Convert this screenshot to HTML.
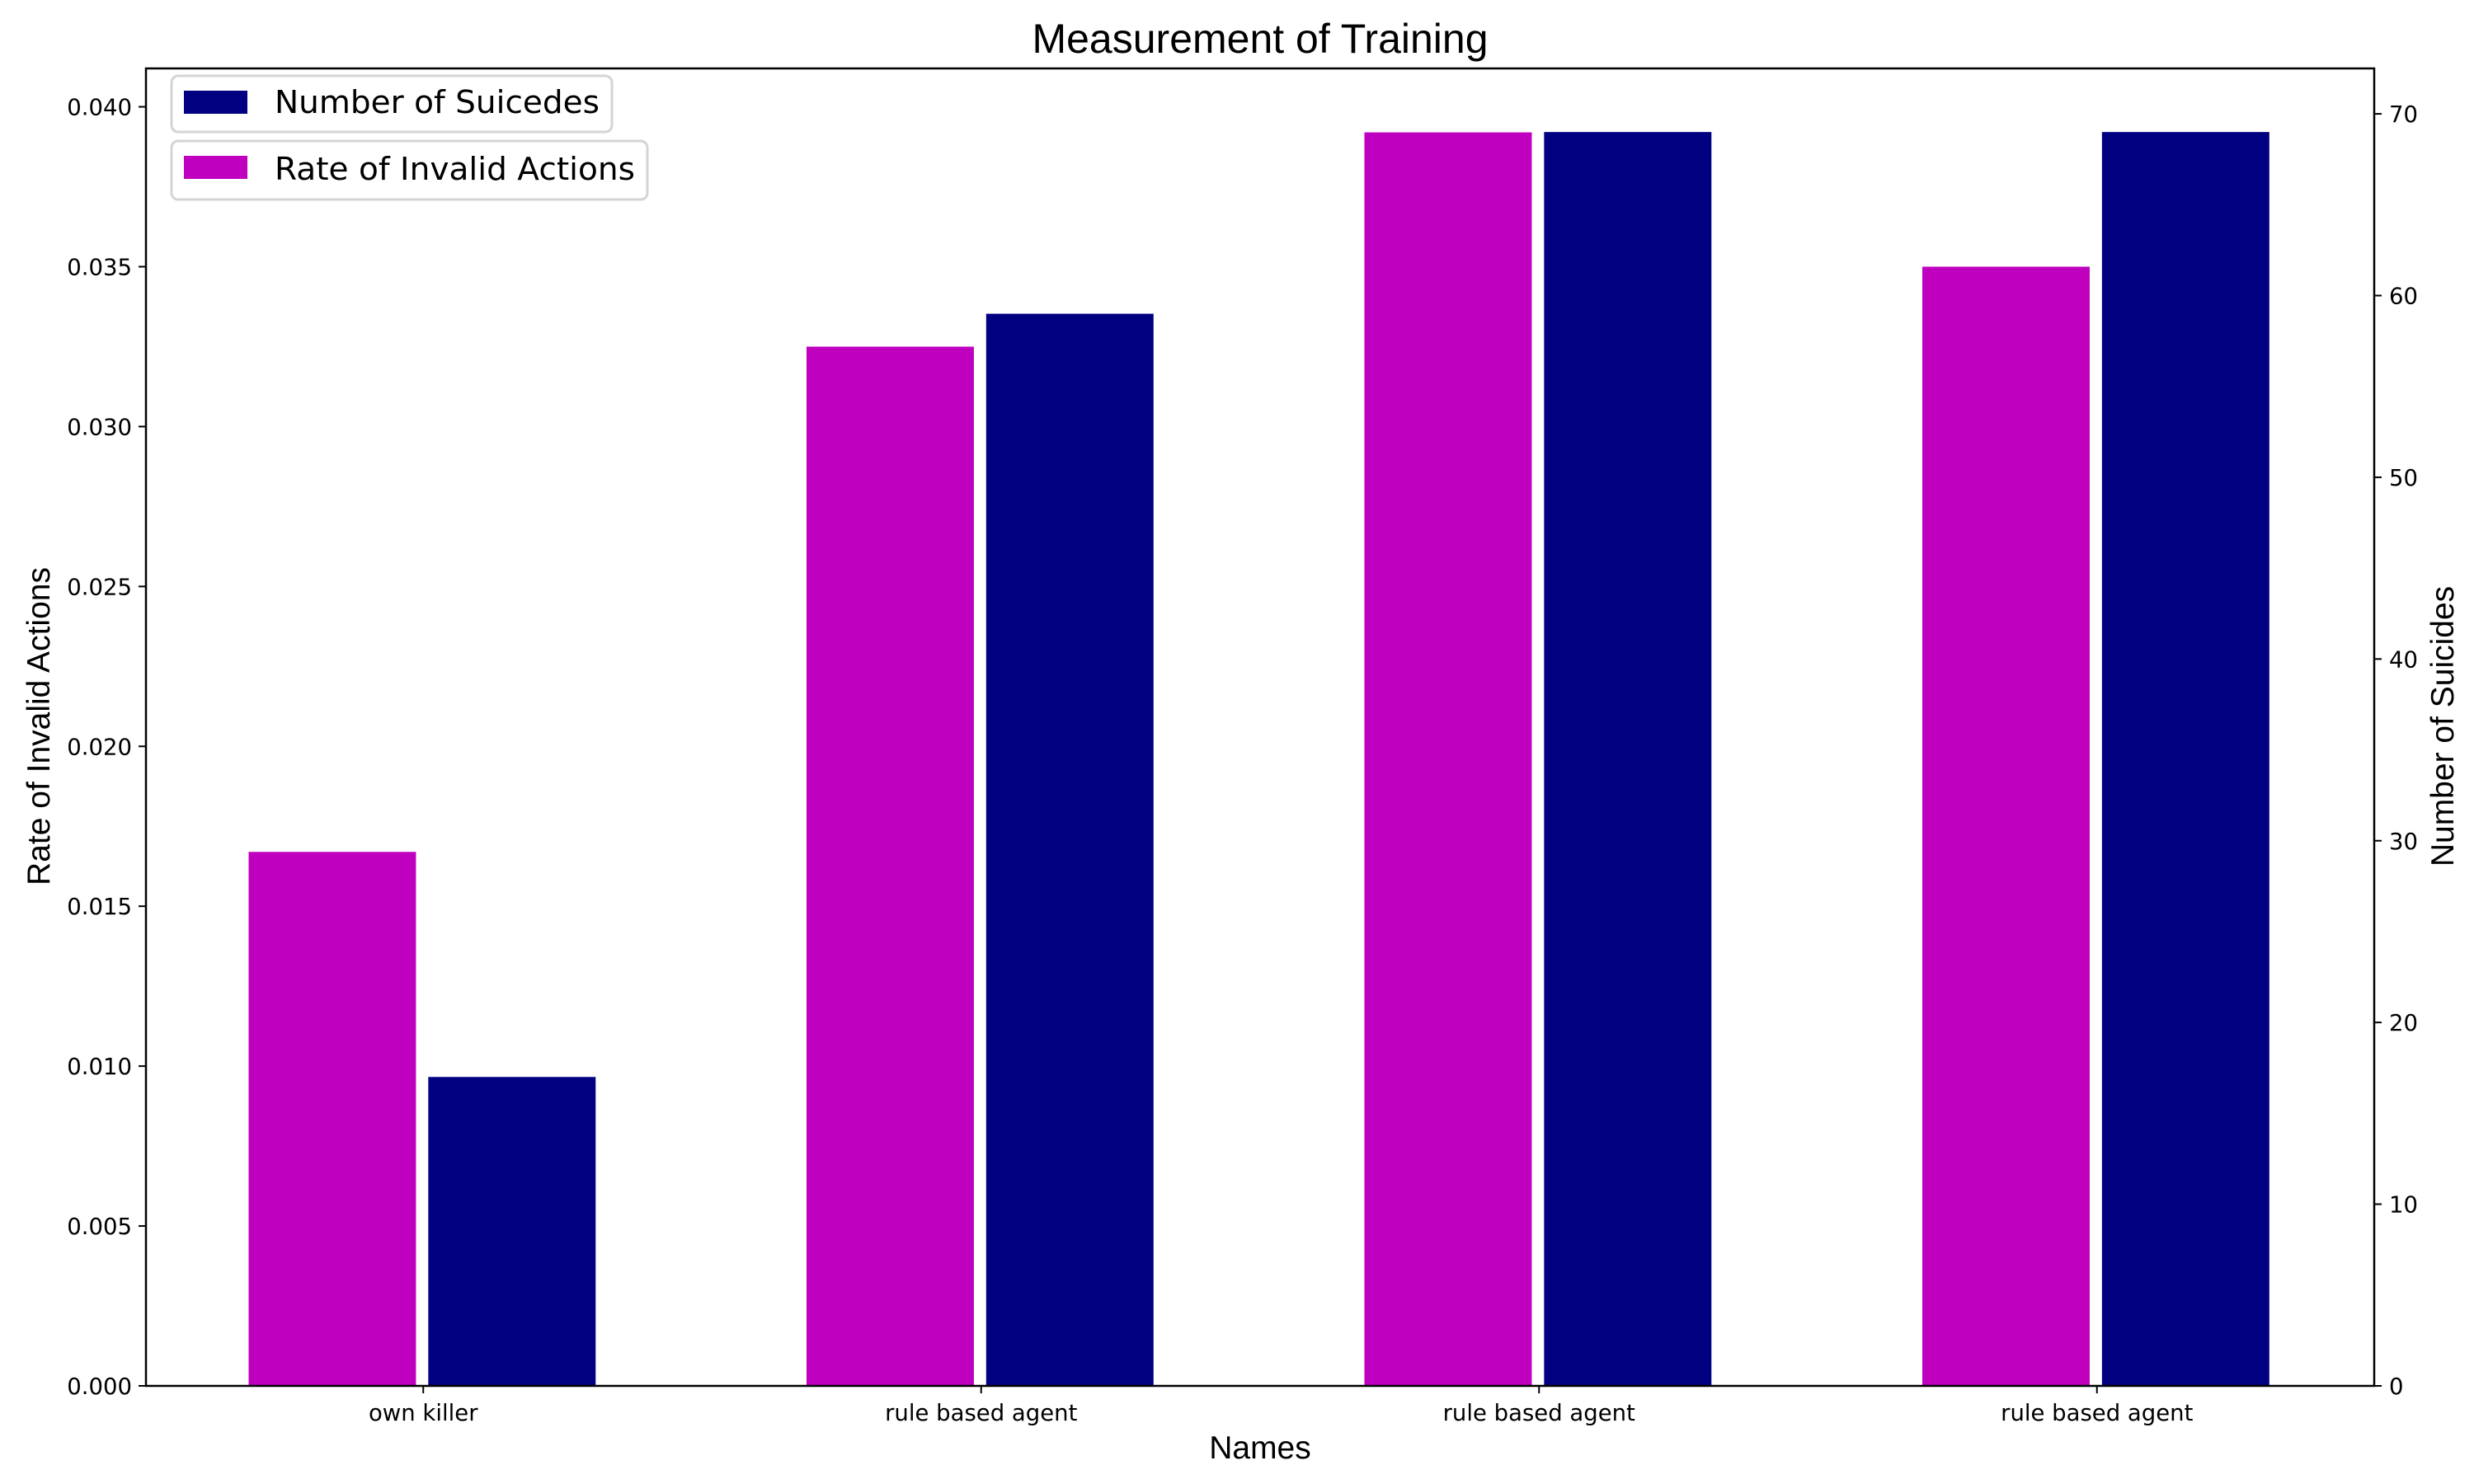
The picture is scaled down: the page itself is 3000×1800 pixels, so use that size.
<!DOCTYPE html>
<html><head><meta charset="utf-8"><style>html,body{margin:0;padding:0;background:#fff}svg{display:block}</style></head>
<body>
<svg id="chart" width="3000" height="1800" viewBox="0 0 3000 1800" xmlns="http://www.w3.org/2000/svg">
<text x="1528" y="64" text-anchor="middle" font-family="Liberation Sans, sans-serif" font-size="50">Measurement of Training</text>
<g id="bars"></g>
<g id="axes"></g>
<text x="1528" y="1769" text-anchor="middle" font-family="Liberation Sans, sans-serif" font-size="39">Names</text>
<text transform="translate(60,881) rotate(-90)" text-anchor="middle" font-family="Liberation Sans, sans-serif" font-size="39">Rate of Invalid Actions</text>
<text transform="translate(2975,881) rotate(-90)" text-anchor="middle" font-family="Liberation Sans, sans-serif" font-size="39">Number of Suicides</text>
<g>
<rect x="208" y="92" width="534" height="68" rx="8" fill="#fff" stroke="#d4d4d4" stroke-width="3"/>
<rect x="223" y="110" width="77" height="28" fill="#000080"/>
<text x="333" y="137" font-family="DejaVu Sans, sans-serif" font-size="38" textLength="394" lengthAdjust="spacingAndGlyphs">Number of Suicedes</text>
</g>
<g>
<rect x="208" y="171" width="577" height="71" rx="8" fill="#fff" stroke="#d4d4d4" stroke-width="3"/>
<rect x="223" y="189" width="77" height="28" fill="#bf00bf"/>
<text x="333" y="218" font-family="DejaVu Sans, sans-serif" font-size="38" textLength="437" lengthAdjust="spacingAndGlyphs">Rate of Invalid Actions</text>
</g>
</svg>
<script>
const categories = ["own killer", "rule based agent", "rule based agent", "rule based agent"];
const invalidRates = [0.0167, 0.0325, 0.0392, 0.0350];
const suicides = [17, 59, 69, 69];
const leftTicks = [0, 0.005, 0.010, 0.015, 0.020, 0.025, 0.030, 0.035, 0.040];
const rightTicks = [0, 10, 20, 30, 40, 50, 60, 70];

const NS = "http://www.w3.org/2000/svg";
const L = 177, R = 2879, T = 83, B = 1681;
const leftMax = 0.0412, rightMax = 72.5;
const xMin = -0.497, xMax = categories.length - 1 + 0.497;
const xs = v => L + (v - xMin) / (xMax - xMin) * (R - L);
const yl = v => B - v / leftMax * (B - T);
const yr = v => B - v / rightMax * (B - T);
function mk(tag, attrs, parent) { const e = document.createElementNS(NS, tag); for (const k in attrs) e.setAttribute(k, attrs[k]); parent.appendChild(e); return e; }
const bars = document.getElementById('bars'), axes = document.getElementById('axes');
categories.forEach((c, i) => {
  let x0 = xs(i - 0.313), x1 = xs(i - 0.013);
  let r = mk('rect', {x: x0, y: yl(invalidRates[i]), width: x1 - x0, height: B - yl(invalidRates[i]), fill: '#bf00bf'}, bars);
  
  
  x0 = xs(i + 0.009); x1 = xs(i + 0.309);
  r = mk('rect', {x: x0, y: yr(suicides[i]), width: x1 - x0, height: B - yr(suicides[i]), fill: '#000080'}, bars);
  
  
  const cx = xs(i);
  mk('line', {x1: cx, x2: cx, y1: B, y2: B + 9, stroke: '#000', 'stroke-width': 2}, axes);
  const t = mk('text', {x: cx, y: 1723, 'text-anchor': 'middle', 'font-family': 'DejaVu Sans, sans-serif', 'font-size': 27.5}, axes);
  t.textContent = c;
  
  
});
leftTicks.forEach(v => {
  const y = yl(v);
  mk('line', {x1: L - 9, x2: L, y1: y, y2: y, stroke: '#000', 'stroke-width': 2}, axes);
  const t = mk('text', {x: L - 17, y: y + 10, 'text-anchor': 'end', 'font-family': 'DejaVu Sans, sans-serif', 'font-size': 27.5}, axes);
  t.textContent = v.toFixed(3);
  
  
});
rightTicks.forEach(v => {
  const y = yr(v);
  mk('line', {x1: R, x2: R + 9, y1: y, y2: y, stroke: '#000', 'stroke-width': 2}, axes);
  const t = mk('text', {x: R + 18, y: y + 10, 'font-family': 'DejaVu Sans, sans-serif', 'font-size': 27.5}, axes);
  t.textContent = v;
  
  
});
const frame = mk('rect', {x: L, y: T, width: R - L, height: B - T, fill: 'none', stroke: '#000', 'stroke-width': 2.5}, axes);


</script>
</body></html>
